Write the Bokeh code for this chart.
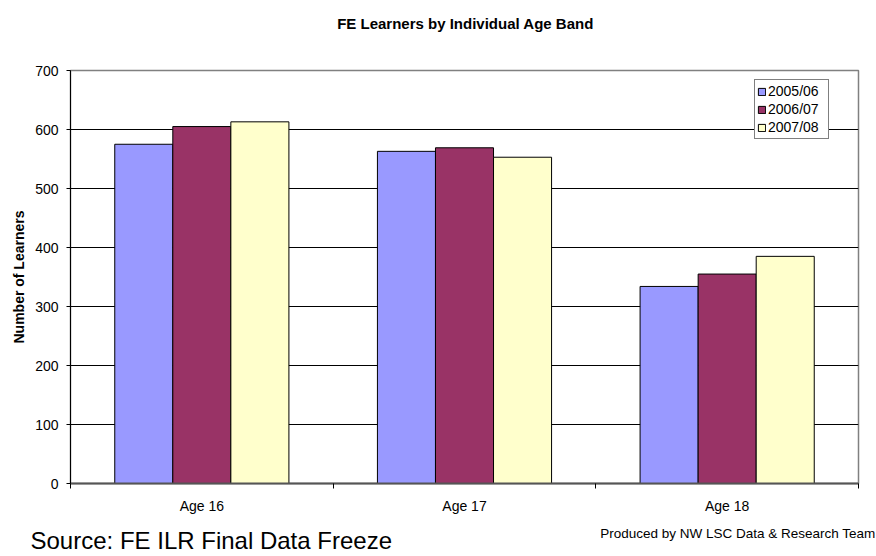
from bokeh.plotting import figure
from bokeh.models import FixedTicker, Label, Range1d, ColumnDataSource
from bokeh.transform import dodge
from bokeh.embed import file_html
from bokeh.resources import INLINE

# ---- data ----
categories = ["Age 16", "Age 17", "Age 18"]
years = ["2005/06", "2006/07", "2007/08"]
learners_2005_06 = [575, 563, 334]
learners_2006_07 = [605, 569, 355]
learners_2007_08 = [613, 553, 385]
y_ticks = [0, 100, 200, 300, 400, 500, 600, 700]

colors = ["#9999FF", "#993366", "#FFFFCC"]
FONT = "Liberation Sans"

W, H = 876, 556
FL, FR, FT, FB = 70, 858, 70, 483   # plot-area edges in page pixels

centers = list(range(len(categories)))
boundaries = [i - 0.5 for i in range(len(categories) + 1)]
src = ColumnDataSource(dict(x=centers, a=learners_2005_06, b=learners_2006_07, c=learners_2007_08))

X0, X1 = -0.5, len(categories) - 0.5
Y0, Y1 = y_ticks[0], y_ticks[-1]

p = figure(width=W, height=H, output_backend="svg", toolbar_location=None,
           x_range=Range1d(X0, X1), y_range=Range1d(Y0, Y1),
           min_border_left=FL, min_border_right=W - FR, min_border_top=FT, min_border_bottom=H - FB)
p.background_fill_color = "white"
p.border_fill_color = "white"
p.outline_line_color = "#808080"
p.outline_line_width = 1.5


def px_x(px):
    return X0 + (px - FL) * (X1 - X0) / (FR - FL)


def px_y(py):
    return Y0 + (FB - py) * (Y1 - Y0) / (FB - FT)


bw = 0.221
for field, off, col, yr in zip(["a", "b", "c"], [-bw, 0, bw], colors, years):
    p.vbar(x=dodge("x", off, range=p.x_range), top=field, width=bw, source=src,
           fill_color=col, line_color="black", line_width=1, legend_label=yr)

# x axis
p.xaxis.ticker = FixedTicker(ticks=centers, minor_ticks=boundaries)
p.xaxis.major_label_overrides = {i: c for i, c in enumerate(categories)}
p.xaxis.major_tick_line_color = None
p.xaxis.major_tick_out = 0
p.xaxis.major_tick_in = 0
p.xaxis.minor_tick_out = 5
p.xaxis.minor_tick_in = 0
p.xaxis.minor_tick_line_color = "black"
p.xaxis.axis_line_color = "#555555"
p.xaxis.axis_line_width = 2
p.xaxis.major_label_standoff = 9
p.xaxis.major_label_text_font = FONT
p.xaxis.major_label_text_font_size = "14px"
p.xaxis.major_label_text_color = "black"

# y axis
p.yaxis.ticker = FixedTicker(ticks=y_ticks)
p.yaxis.minor_tick_line_color = None
p.yaxis.major_tick_out = 4
p.yaxis.major_tick_in = 0
p.yaxis.major_tick_line_color = "black"
p.yaxis.axis_line_color = "black"
p.yaxis.major_label_standoff = 8
p.yaxis.major_label_text_font = FONT
p.yaxis.major_label_text_font_size = "14px"
p.yaxis.major_label_text_color = "black"
p.yaxis.axis_label = "Number of Learners"
p.yaxis.axis_label_standoff = 5
p.yaxis.axis_label_text_font = FONT
p.yaxis.axis_label_text_font_size = "14px"
p.yaxis.axis_label_text_font_style = "bold"
p.yaxis.axis_label_text_color = "black"

p.xgrid.grid_line_color = None
p.ygrid.ticker = FixedTicker(ticks=y_ticks)
p.ygrid.grid_line_color = "black"
p.ygrid.grid_line_width = 1

# legend
lg = p.legend[0]
lg.location = (684, 344)
lg.border_line_color = "black"
lg.border_line_width = 1
lg.background_fill_color = "white"
lg.background_fill_alpha = 1
lg.padding = 2
lg.margin = 0
lg.spacing = 0
lg.label_height = 18
lg.label_width = 58
lg.glyph_width = 9
lg.glyph_height = 9
lg.label_standoff = 2
lg.label_text_font = FONT
lg.label_text_font_size = "14px"
lg.label_text_color = "black"

# texts outside the plot area (side-panel labels are not clipped to the frame)
p.add_layout(Label(x=px_x(465), y=px_y(23), text="FE Learners by Individual Age Band",
                   text_align="center", text_baseline="alphabetic", text_font=FONT,
                   text_font_size="15px", text_font_style="bold", text_color="black"), "above")
p.add_layout(Label(x=px_x(30), y=px_y(540), text="Source: FE ILR Final Data Freeze",
                   text_align="left", text_baseline="alphabetic", text_font=FONT,
                   text_font_size="24px", text_color="black"), "above")
p.add_layout(Label(x=px_x(875), y=px_y(533), text="Produced by NW LSC Data & Research Team",
                   text_align="right", text_baseline="alphabetic", text_font=FONT,
                   text_font_size="13.5px", text_color="black"), "above")

open("out.html", "w").write(file_html(p, INLINE))
